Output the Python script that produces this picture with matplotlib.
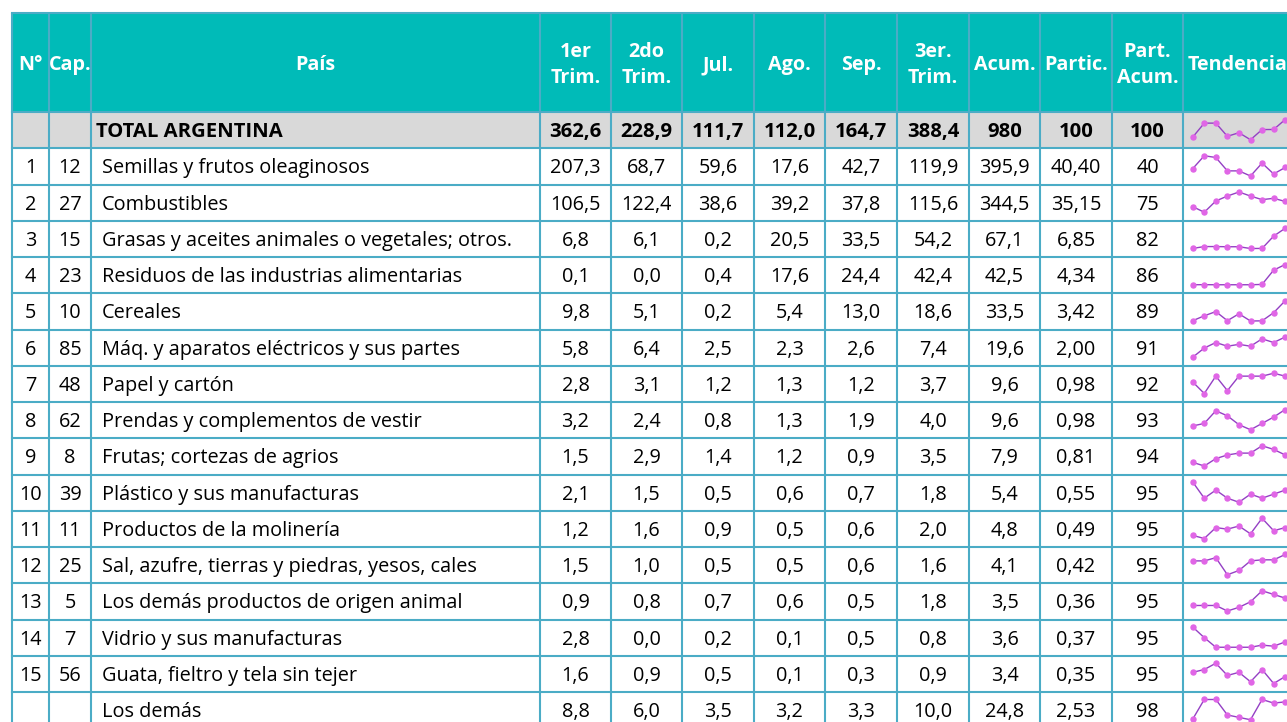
import matplotlib
matplotlib.use("Agg")
import matplotlib.pyplot as plt
from matplotlib.patches import Rectangle

# ---- data -------------------------------------------------------------
nros = [1, 2, 3, 4, 5, 6, 7, 8, 9, 10, 11, 12, 13, 14, 15, None]
caps = [12, 27, 15, 23, 10, 85, 48, 62, 8, 39, 11, 25, 5, 7, 56, None]
paises = [
    "Semillas y frutos oleaginosos",
    "Combustibles",
    "Grasas y aceites animales o vegetales; otros.",
    "Residuos de las industrias alimentarias",
    "Cereales",
    "Máq. y aparatos eléctricos y sus partes",
    "Papel y cartón",
    "Prendas y complementos de vestir",
    "Frutas; cortezas de agrios",
    "Plástico y sus manufacturas",
    "Productos de la molinería",
    "Sal, azufre, tierras y piedras, yesos, cales",
    "Los demás productos de origen animal",
    "Vidrio y sus manufacturas",
    "Guata, fieltro y tela sin tejer",
    "Los demás",
]
trim1 = [207.3, 106.5, 6.8, 0.1, 9.8, 5.8, 2.8, 3.2, 1.5, 2.1, 1.2, 1.5, 0.9, 2.8, 1.6, 8.8]
trim2 = [68.7, 122.4, 6.1, 0.0, 5.1, 6.4, 3.1, 2.4, 2.9, 1.5, 1.6, 1.0, 0.8, 0.0, 0.9, 6.0]
jul = [59.6, 38.6, 0.2, 0.4, 0.2, 2.5, 1.2, 0.8, 1.4, 0.5, 0.9, 0.5, 0.7, 0.2, 0.5, 3.5]
ago = [17.6, 39.2, 20.5, 17.6, 5.4, 2.3, 1.3, 1.3, 1.2, 0.6, 0.5, 0.5, 0.6, 0.1, 0.1, 3.2]
sep = [42.7, 37.8, 33.5, 24.4, 13.0, 2.6, 1.2, 1.9, 0.9, 0.7, 0.6, 0.6, 0.5, 0.5, 0.3, 3.3]
trim3 = [119.9, 115.6, 54.2, 42.4, 18.6, 7.4, 3.7, 4.0, 3.5, 1.8, 2.0, 1.6, 1.8, 0.8, 0.9, 10.0]
acum = [395.9, 344.5, 67.1, 42.5, 33.5, 19.6, 9.6, 9.6, 7.9, 5.4, 4.8, 4.1, 3.5, 3.6, 3.4, 24.8]
partic = [40.40, 35.15, 6.85, 4.34, 3.42, 2.00, 0.98, 0.98, 0.81, 0.55, 0.49, 0.42, 0.36, 0.37, 0.35, 2.53]
part_acum = [40, 75, 82, 86, 89, 91, 92, 93, 94, 95, 95, 95, 95, 95, 95, 98]

total_label = "TOTAL ARGENTINA"
total_vals = [362.6, 228.9, 111.7, 112.0, 164.7, 388.4, 980, 100, 100]

# monthly values (Ene..Sep) behind the "Tendencia" sparklines
total_mensual = [71.5, 145.5, 145.6, 76.0, 95.0, 57.9, 111.7, 112.0, 164.7]
mensual = [
    [38.0, 88.0, 81.3, 29.5, 29.5, 9.7, 59.6, 17.6, 42.7],
    [35.5, 33.0, 38.0, 40.2, 42.0, 40.2, 38.6, 39.2, 37.8],
    [0.2, 3.3, 3.3, 3.0, 3.0, 0.1, 0.2, 20.5, 33.5],
    [0.0, 0.1, 0.0, 0.0, 0.0, 0.0, 0.4, 17.6, 24.4],
    [0.3, 3.4, 6.1, 0.3, 4.7, 0.1, 0.2, 5.4, 13.0],
    [1.5, 2.0, 2.3, 2.1, 2.2, 2.1, 2.5, 2.3, 2.6],
    [1.0, 0.6, 1.2, 0.7, 1.2, 1.2, 1.2, 1.3, 1.2],
    [0.6, 0.8, 1.8, 1.4, 0.7, 0.3, 0.8, 1.3, 1.9],
    [0.5, 0.3, 0.7, 0.9, 1.0, 1.0, 1.4, 1.2, 0.9],
    [0.9, 0.5, 0.7, 0.5, 0.4, 0.6, 0.5, 0.6, 0.7],
    [0.35, 0.25, 0.6, 0.55, 0.65, 0.4, 0.9, 0.5, 0.6],
    [0.48, 0.48, 0.54, 0.22, 0.3, 0.48, 0.5, 0.5, 0.6],
    [0.3, 0.3, 0.3, 0.15, 0.25, 0.4, 0.7, 0.6, 0.5],
    [1.9, 0.9, 0.0, 0.0, 0.0, 0.0, 0.2, 0.1, 0.5],
    [0.42, 0.5, 0.68, 0.33, 0.42, 0.15, 0.5, 0.1, 0.3],
    [1.85, 3.5, 3.5, 2.2, 2.0, 1.8, 3.5, 3.2, 3.3],
]

headers = ["N°", "Cap.", "País", "1er\nTrim.", "2do\nTrim.", "Jul.", "Ago.", "Sep.",
           "3er.\nTrim.", "Acum.", "Partic.", "Part.\nAcum.", "Tendencia"]

# ---- layout (pixels) --------------------------------------------------
W, H = 1287, 722
col_x = [12, 49, 91, 540, 611, 682, 754, 825, 897, 969, 1040, 1112, 1183, 1320]
head_top, head_bot = 13, 112
row_h = 36.25

teal = "#00BBB8"
grid_c = "#4BACC6"
gray = "#D9D9D9"
font = "Open Sans"
fs_body = 14.3
fs_bold = 14.6
fs_head = 14.2

fig = plt.figure(figsize=(W / 100, H / 100), dpi=100)
ax = fig.add_axes([0, 0, 1, 1])
ax.set_xlim(0, W)
ax.set_ylim(H, 0)
ax.axis("off")

# backgrounds
ax.add_patch(Rectangle((col_x[0], head_top), col_x[-1] - col_x[0], head_bot - head_top,
                       facecolor=teal, edgecolor="none"))
ax.add_patch(Rectangle((col_x[0], head_bot), col_x[-1] - col_x[0], row_h,
                       facecolor=gray, edgecolor="none"))

n_rows = len(paises) + 1
row_tops = [head_bot + i * row_h for i in range(n_rows)]

# grid
for x in col_x[:-1]:
    ax.plot([x, x], [head_top, H + 10], color=grid_c, lw=1.5, solid_capstyle="butt")
ax.plot([col_x[0], W + 10], [head_top, head_top], color=grid_c, lw=1.5)
for y in row_tops + [row_tops[-1] + row_h]:
    ax.plot([col_x[0], W + 10], [y, y], color=grid_c, lw=1.5)

# header text
for i, h in enumerate(headers):
    cx = (col_x[i] + col_x[i + 1]) / 2
    ha = "center"
    if h == "Tendencia":
        cx, ha = col_x[i] + 5, "left"
    ax.text(cx, (head_top + head_bot) / 2 + 2.5, h, color="white", fontsize=fs_head,
            fontweight="bold", family=font, ha=ha, va="center",
            multialignment="center", linespacing=1.45)

def fmt1(v):
    return f"{v:.1f}".replace(".", ",")

def centers(i):
    return (col_x[i] + col_x[i + 1]) / 2

# total row
yc = row_tops[0] + row_h / 2 + 1.5
ax.text(col_x[2] + 5, yc, total_label, fontsize=fs_bold, fontweight="bold", family=font,
        ha="left", va="center")
for j, v in enumerate(total_vals):
    s = fmt1(v) if j < 6 else f"{v:.0f}"
    ax.text(centers(3 + j), yc, s, fontsize=fs_bold, fontweight="bold", family=font,
            ha="center", va="center")

# body rows
for r in range(len(paises)):
    yc = row_tops[r + 1] + row_h / 2 + 2
    if nros[r] is not None:
        ax.text(centers(0), yc, str(nros[r]), fontsize=fs_body, family=font, ha="center", va="center")
        ax.text(centers(1), yc, str(caps[r]), fontsize=fs_body, family=font, ha="center", va="center")
    ax.text(col_x[2] + 11, yc, paises[r], fontsize=fs_body, family=font, ha="left", va="center")
    vals = [fmt1(trim1[r]), fmt1(trim2[r]), fmt1(jul[r]), fmt1(ago[r]), fmt1(sep[r]),
            fmt1(trim3[r]), fmt1(acum[r]), f"{partic[r]:.2f}".replace(".", ","),
            f"{part_acum[r]:.0f}"]
    for j, s in enumerate(vals):
        ax.text(centers(3 + j), yc, s, fontsize=fs_body, family=font, ha="center", va="center")

# sparklines
spark_x0, spark_x1 = 1192.7, 1285.2
all_series = [total_mensual] + mensual
for r, serie in enumerate(all_series):
    top = row_tops[r] + 7.5
    bot = row_tops[r] + row_h - 8.5
    sax = fig.add_axes([spark_x0 / W, 1 - bot / H, (spark_x1 - spark_x0) / W, (bot - top) / H])
    sax.plot(range(len(serie)), serie, color="#9440C4", lw=1.0, marker="o", markersize=3.6,
             markerfacecolor="#E066E6", markeredgecolor="#E066E6", clip_on=False)
    sax.set_xlim(0, len(serie) - 1)
    lo, hi = min(serie), max(serie)
    sax.set_ylim(lo, hi if hi > lo else lo + 1)
    sax.axis("off")

fig.savefig("out.png", dpi=100, facecolor="white")
